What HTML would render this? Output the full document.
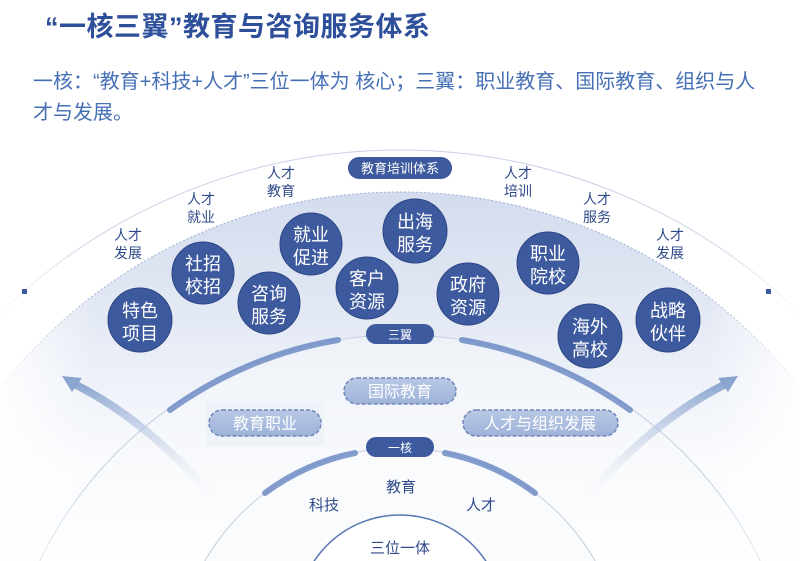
<!DOCTYPE html>
<html><head><meta charset="utf-8"><style>
html,body{margin:0;padding:0;background:#fff;width:800px;height:561px;overflow:hidden}
svg{display:block}
text{font-family:"Liberation Sans","Noto Sans CJK SC",sans-serif}
</style></head><body>
<svg width="800" height="561" viewBox="0 0 800 561" xmlns="http://www.w3.org/2000/svg">
<defs>
<linearGradient id="bg" x1="0" y1="0" x2="0" y2="1" gradientUnits="userSpaceOnUse" x2b="0">
<stop offset="0" stop-color="#eef2f9"/><stop offset="1" stop-color="#ffffff"/></linearGradient>
<linearGradient id="band" x1="0" y1="190" x2="0" y2="470" gradientUnits="userSpaceOnUse">
<stop offset="0" stop-color="#d3dcee"/><stop offset="0.45" stop-color="#e3e9f4"/><stop offset="1" stop-color="#fbfcfe"/></linearGradient>
<linearGradient id="inner" x1="0" y1="335" x2="0" y2="561" gradientUnits="userSpaceOnUse">
<stop offset="0" stop-color="#eef2f8"/><stop offset="1" stop-color="#ffffff"/></linearGradient>
<linearGradient id="side" x1="0" y1="0" x2="1" y2="0">
<stop offset="0" stop-color="#fff" stop-opacity="0.9"/><stop offset="0.12" stop-color="#fff" stop-opacity="0"/>
<stop offset="0.88" stop-color="#fff" stop-opacity="0"/><stop offset="1" stop-color="#fff" stop-opacity="0.9"/></linearGradient>
<linearGradient id="arr" x1="0" y1="1" x2="0" y2="0">
<stop offset="0" stop-color="#ffffff" stop-opacity="0"/><stop offset="1" stop-color="#8aa3cf"/></linearGradient>
<linearGradient id="pill" x1="0" y1="0" x2="0" y2="1">
<stop offset="0" stop-color="#b9c8e4"/><stop offset="1" stop-color="#9fb3da"/></linearGradient>
</defs>
<text x="45" y="36" font-size="27" font-weight="bold" fill="#2e4f9a" letter-spacing="0.5">“一核三翼”教育与咨询服务体系</text>
<text x="33" y="88" font-size="20" fill="#4670b5">一核：“教育+科技+人才”三位一体为 核心；三翼：职业教育、国际教育、组织与人</text>
<text x="33" y="119" font-size="20" fill="#4670b5">才与发展。</text>

<circle cx="400" cy="722" r="572" fill="url(#bg)" stroke="#c8d2e4" stroke-width="1"/>
<circle cx="400" cy="698" r="506" fill="url(#band)" stroke="#9fb0d2" stroke-width="1" stroke-dasharray="2 2"/>
<circle cx="400" cy="735" r="400" fill="url(#inner)" stroke="#c4cfe3" stroke-width="1"/>
<circle cx="400" cy="673" r="225" fill="#fafbfd" stroke="#c4cfe3" stroke-width="1"/>
<rect x="0" y="140" width="800" height="421" fill="url(#side)"/>
<circle cx="400" cy="618" r="103" fill="#ffffff" stroke="#5b78b5" stroke-width="1.5"/>
<rect x="22" y="289" width="5" height="5" fill="#3d5a9e"/>
<rect x="766" y="289" width="5" height="5" fill="#3d5a9e"/>

<path d="M338 340 A400 400 0 0 0 170 410" fill="none" stroke="#6f8cc4" stroke-width="6" stroke-linecap="round" opacity="0.85"/>
<path d="M462 340 A400 400 0 0 1 630 410" fill="none" stroke="#6f8cc4" stroke-width="6" stroke-linecap="round" opacity="0.85"/>
<path d="M355 453 A225 225 0 0 0 265 493" fill="none" stroke="#6f8cc4" stroke-width="6" stroke-linecap="round" opacity="0.85"/>
<path d="M445 453 A225 225 0 0 1 535 493" fill="none" stroke="#6f8cc4" stroke-width="6" stroke-linecap="round" opacity="0.85"/>

<path d="M224 510 Q150 420 70 382" fill="none" stroke="url(#arr)" stroke-width="8"/>
<path d="M62 376 L82 378 L72 392 Z" fill="#8aa3cf"/>
<path d="M576 510 Q650 420 730 382" fill="none" stroke="url(#arr)" stroke-width="8"/>
<path d="M738 376 L718 378 L728 392 Z" fill="#8aa3cf"/>

<g font-size="14" fill="#2f4a8a" text-anchor="middle">
<text x="128" y="240">人才</text><text x="128" y="258">发展</text>
<text x="201" y="204">人才</text><text x="201" y="222">就业</text>
<text x="281" y="178">人才</text><text x="281" y="196">教育</text>
<text x="518" y="178">人才</text><text x="518" y="196">培训</text>
<text x="597" y="204">人才</text><text x="597" y="222">服务</text>
<text x="670" y="240">人才</text><text x="670" y="258">发展</text>
</g>

<rect x="348" y="157" width="104" height="22" rx="11" fill="#3d5a9e"/>
<text x="400" y="173" font-size="13" fill="#fff" text-anchor="middle">教育培训体系</text>

<g fill="#3d5a9e" stroke="#2c4685" stroke-width="1">
<circle cx="140" cy="320" r="32"/><circle cx="203" cy="273" r="31"/>
<circle cx="269" cy="303" r="31"/><circle cx="311" cy="244" r="31"/>
<circle cx="367" cy="288" r="31"/><circle cx="415" cy="231" r="32"/>
<circle cx="468" cy="294" r="31"/><circle cx="548" cy="263" r="31"/>
<circle cx="590" cy="336" r="32"/><circle cx="668" cy="320" r="32"/>
</g>
<g font-size="18" fill="#fff" text-anchor="middle">
<text x="140" y="317">特色</text><text x="140" y="340">项目</text>
<text x="203" y="270">社招</text><text x="203" y="293">校招</text>
<text x="269" y="300">咨询</text><text x="269" y="323">服务</text>
<text x="311" y="241">就业</text><text x="311" y="264">促进</text>
<text x="367" y="285">客户</text><text x="367" y="308">资源</text>
<text x="415" y="228">出海</text><text x="415" y="251">服务</text>
<text x="468" y="291">政府</text><text x="468" y="314">资源</text>
<text x="548" y="260">职业</text><text x="548" y="283">院校</text>
<text x="590" y="333">海外</text><text x="590" y="356">高校</text>
<text x="668" y="317">战略</text><text x="668" y="340">伙伴</text>
</g>

<rect x="366" y="324" width="68" height="20" rx="10" fill="#3d5a9e"/>
<text x="400" y="339" font-size="12" fill="#fff" text-anchor="middle">三翼</text>
<rect x="366" y="437" width="68" height="20" rx="10" fill="#3d5a9e"/>
<text x="400" y="452" font-size="12" fill="#fff" text-anchor="middle">一核</text>

<rect x="206" y="402" width="118" height="44" fill="#eef2f9"/>
<g fill="url(#pill)" stroke="#7087b8" stroke-width="1.5" stroke-dasharray="4 2">
<rect x="344" y="378" width="112" height="26" rx="13"/>
<rect x="209" y="410" width="112" height="26" rx="13"/>
<rect x="463" y="410" width="155" height="26" rx="13"/>
</g>
<g font-size="16" fill="#fff" text-anchor="middle">
<text x="400" y="397">国际教育</text>
<text x="265" y="429">教育职业</text>
<text x="540" y="429">人才与组织发展</text>
</g>

<g font-size="15" fill="#2f4a8a" text-anchor="middle">
<text x="401" y="492">教育</text>
<text x="324" y="510">科技</text>
<text x="481" y="510">人才</text>
<text x="400" y="553">三位一体</text>
</g>
</svg>
</body></html>
